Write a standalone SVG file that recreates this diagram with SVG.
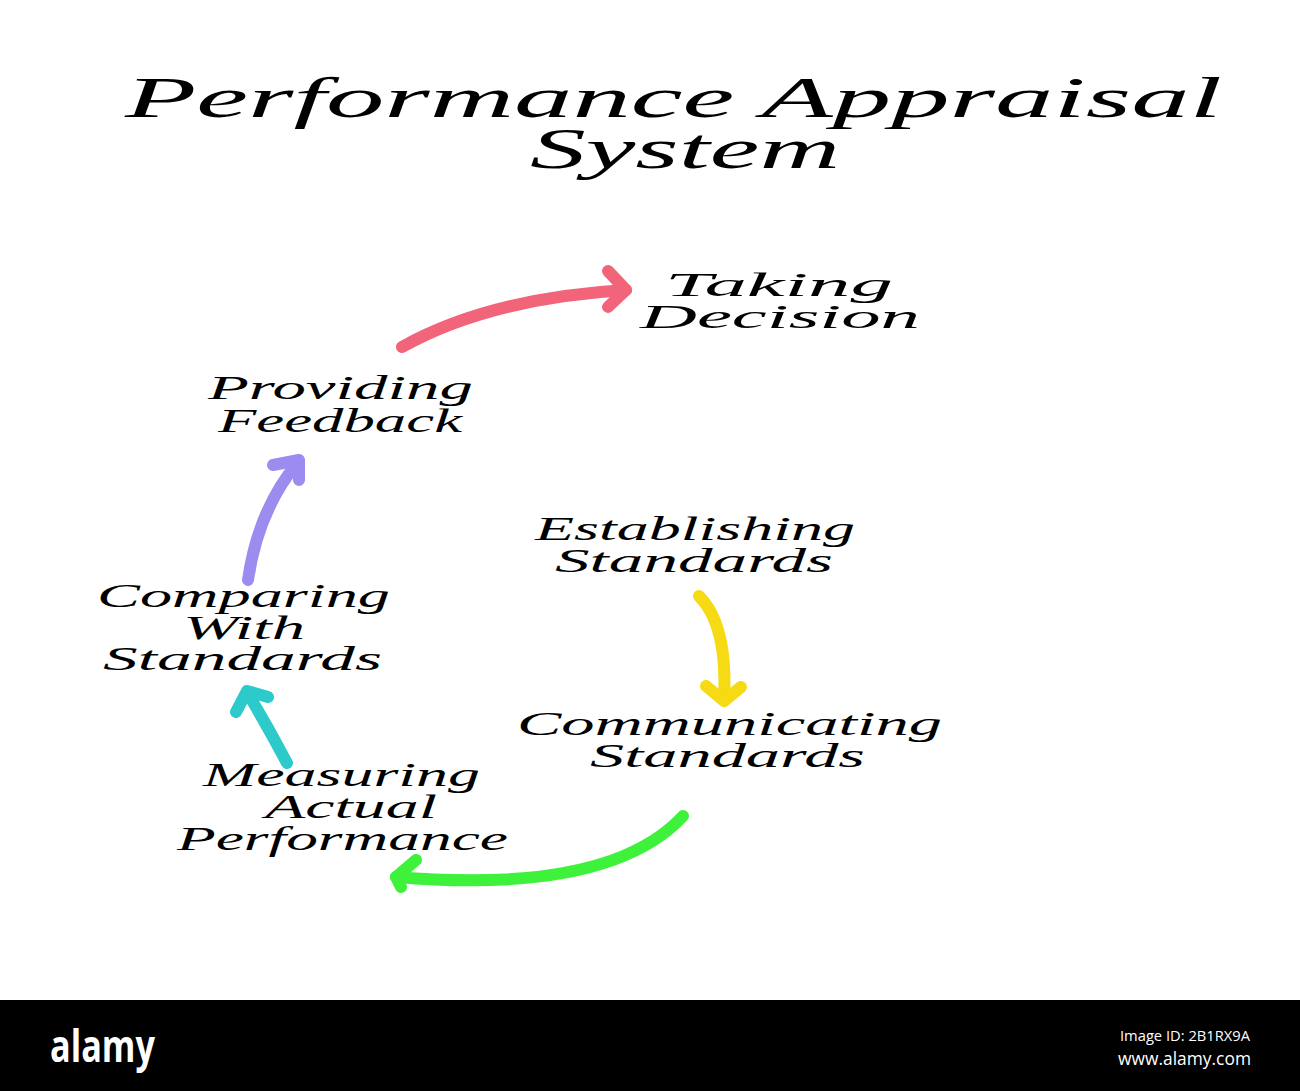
<svg xmlns="http://www.w3.org/2000/svg" width="1300" height="1091" viewBox="0 0 1300 1091">
<style>
.t{font-family:"Liberation Serif","DejaVu Serif",serif;font-style:italic;fill:#000}
.title{font-size:57px}
.lbl{font-size:33px}
.arr{fill:none;stroke-width:12;stroke-linecap:round;stroke-linejoin:round}
.wm{font-family:"Open Sans","DejaVu Sans",sans-serif;fill:#fff}
</style>
<rect width="1300" height="1091" fill="#fff"/>
<g id="title">
<text class="t title" x="125" y="117" textLength="1097" lengthAdjust="spacingAndGlyphs">Performance Appraisal</text>
<text class="t title" x="530" y="168" textLength="310" lengthAdjust="spacingAndGlyphs">System</text>
</g>
<g id="taking-decision">
<text class="t lbl" x="665" y="296" textLength="228" lengthAdjust="spacingAndGlyphs">Taking</text>
<text class="t lbl" x="640" y="328" textLength="280" lengthAdjust="spacingAndGlyphs">Decision</text>
</g>
<g id="providing-feedback">
<text class="t lbl" x="208" y="399" textLength="265" lengthAdjust="spacingAndGlyphs">Providing</text>
<text class="t lbl" x="218" y="432" textLength="244" lengthAdjust="spacingAndGlyphs">Feedback</text>
</g>
<g id="establishing-standards">
<text class="t lbl" x="535" y="540" textLength="320" lengthAdjust="spacingAndGlyphs">Establishing</text>
<text class="t lbl" x="555" y="572" textLength="278" lengthAdjust="spacingAndGlyphs">Standards</text>
</g>
<g id="comparing-with-standards">
<text class="t lbl" x="97" y="607" textLength="293" lengthAdjust="spacingAndGlyphs">Comparing</text>
<text class="t lbl" x="183" y="639" textLength="122" lengthAdjust="spacingAndGlyphs">With</text>
<text class="t lbl" x="103" y="670" textLength="279" lengthAdjust="spacingAndGlyphs">Standards</text>
</g>
<g id="communicating-standards">
<text class="t lbl" x="517" y="735" textLength="425" lengthAdjust="spacingAndGlyphs">Communicating</text>
<text class="t lbl" x="590" y="767" textLength="275" lengthAdjust="spacingAndGlyphs">Standards</text>
</g>
<g id="measuring-actual-performance">
<text class="t lbl" x="203" y="786" textLength="277" lengthAdjust="spacingAndGlyphs">Measuring</text>
<text class="t lbl" x="265" y="818" textLength="172" lengthAdjust="spacingAndGlyphs">Actual</text>
<text class="t lbl" x="177" y="850" textLength="331" lengthAdjust="spacingAndGlyphs">Performance</text>
</g>
<g id="connectors">
<g stroke="#f2647a" class="arr">
<path d="M402,347 Q490,298 626,290"/>
<path d="M608,271 L626,290 L608,307"/>
</g>
<g stroke="#9d8cf0" class="arr">
<path d="M248,580 Q258,510 298,462"/>
<path d="M273,465 L299,460 L299,480"/>
</g>
<g stroke="#f5da14" class="arr">
<path d="M699,596 Q728,625 724,700"/>
<path d="M706,686 L724,701 L741,687"/>
</g>
<g stroke="#2ccaca" class="arr">
<path d="M287,763 Q268,727 247,692"/>
<path d="M236,712 L247,691 L268,697"/>
</g>
<g stroke="#3ef23c" class="arr">
<path d="M683,816 Q610,895 396,877"/>
<path d="M416,860 L396,877 L401,887"/>
</g>
</g>
<g id="watermark">
<rect x="0" y="1000" width="1300" height="91" fill="#000"/>
<text class="wm" x="50" y="1062" font-size="44" font-weight="bold" textLength="105" lengthAdjust="spacingAndGlyphs">alamy</text>
<text class="wm" x="1120" y="1041" font-size="15" textLength="130" lengthAdjust="spacingAndGlyphs">Image ID: 2B1RX9A</text>
<text class="wm" x="1118" y="1065" font-size="18" textLength="133" lengthAdjust="spacingAndGlyphs">www.alamy.com</text>
</g>
</svg>
